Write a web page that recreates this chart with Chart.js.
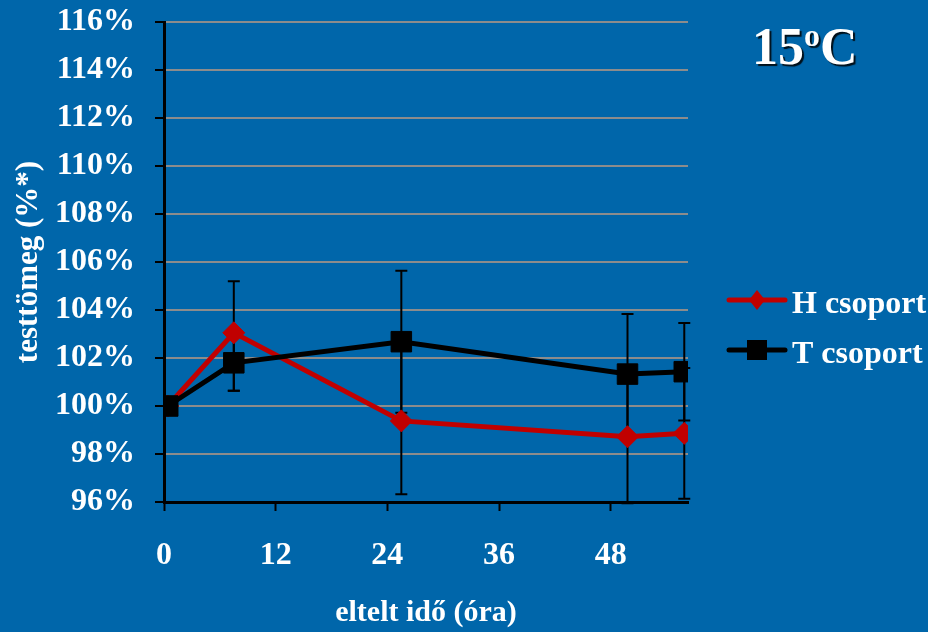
<!DOCTYPE html>
<html lang="hu">
<head>
    <meta charset="UTF-8">
    <title>Testtömeg 15°C</title>
    <script src="https://cdn.jsdelivr.net/npm/chart.js"></script>
    <style>
        html, body {
            margin: 0;
            padding: 0;
            background-color: #0066aa;
        }

        .chart-container {
            width: 928px;
            height: 632px;
        }
    </style>
</head>
<body>
    <div class="chart-container">
        <canvas id="massChart"></canvas>
    </div>

    <script>
        // time since start (hours)
        var hours = [0.4, 7.5, 25.5, 49.8, 55.9];

        // body mass, % of starting value
        var hValues = [100, 103.05, 99.38, 98.72, 98.86];
        var tValues = [100, 101.8, 102.68, 101.33, 101.43];

        // error bars (percentage points)
        var hErrPlus = [0, 2.15, 3.06, 2.72, 2.72];
        var hErrMinus = [0, 2.41, 3.06, 2.77, 2.72];
        var tErrPlus = [0, 1.16, 2.96, 2.5, 2.03];
        var tErrMinus = [0, 1.16, 2.96, 2.5, 2.03];

        var xTicks = [0, 12, 24, 36, 48];
        var yTicks = [96, 98, 100, 102, 104, 106, 108, 110, 112, 114, 116];

        var seriesLabels = ['H csoport', 'T csoport'];
        var titleText = '15';

        var serif = "'Liberation Serif', 'Times New Roman', serif";

        function toPoints(values) {
            return values.map(function (v, i) { return { x: hours[i], y: v }; });
        }

        var errorBars = {
            id: 'errorBars',
            beforeDatasetsDraw: function (chart) {
                var ctx = chart.ctx;
                var xs = chart.scales.x, ys = chart.scales.y;
                var sets = [[hValues, hErrPlus, hErrMinus], [tValues, tErrPlus, tErrMinus]];
                ctx.save();
                ctx.strokeStyle = '#000';
                ctx.lineWidth = 2;
                sets.forEach(function (s) {
                    s[0].forEach(function (v, i) {
                        if (!s[1][i] && !s[2][i]) return;
                        var px = xs.getPixelForValue(hours[i]);
                        var top = ys.getPixelForValue(v + s[1][i]);
                        var bot = ys.getPixelForValue(v - s[2][i]);
                        ctx.beginPath();
                        ctx.moveTo(px, top); ctx.lineTo(px, bot);
                        ctx.moveTo(px - 6, top); ctx.lineTo(px + 6, top);
                        ctx.moveTo(px - 6, bot); ctx.lineTo(px + 6, bot);
                        ctx.stroke();
                    });
                });
                ctx.restore();
            }
        };

        var sideLegend = {
            id: 'sideLegend',
            afterDraw: function (chart) {
                var ctx = chart.ctx;
                var x0 = chart.chartArea.right + 41;
                ctx.save();
                chart.data.datasets.forEach(function (ds, i) {
                    var y = 300 + i * 50;
                    ctx.strokeStyle = ds.borderColor;
                    ctx.lineWidth = 5;
                    ctx.lineCap = 'round';
                    ctx.beginPath();
                    ctx.moveTo(x0, y); ctx.lineTo(x0 + 56, y);
                    ctx.stroke();
                    ctx.fillStyle = ds.pointBackgroundColor;
                    var cx = x0 + 28;
                    ctx.beginPath();
                    if (ds.pointStyle === 'rectRot') {
                        ctx.moveTo(cx, y - 10); ctx.lineTo(cx + 8, y);
                        ctx.lineTo(cx, y + 10); ctx.lineTo(cx - 8, y);
                        ctx.closePath();
                    } else {
                        ctx.rect(cx - 10, y - 10, 20, 20);
                    }
                    ctx.fill();
                    ctx.fillStyle = '#fff';
                    ctx.font = 'bold 32px ' + serif;
                    ctx.textBaseline = 'alphabetic';
                    ctx.fillText(ds.label, x0 + 63, y + 13);
                });

                // temperature label with shadow
                ctx.shadowColor = 'rgba(0,0,0,0.85)';
                ctx.shadowOffsetX = 2;
                ctx.shadowOffsetY = 2;
                ctx.shadowBlur = 1;
                ctx.fillStyle = '#fff';
                ctx.font = 'bold 52px ' + serif;
                ctx.fillText(titleText, 752, 64);
                var w = ctx.measureText(titleText).width;
                ctx.font = 'bold 32px ' + serif;
                ctx.fillText('o', 752 + w, 46);
                var w2 = ctx.measureText('o').width;
                ctx.font = 'bold 52px ' + serif;
                ctx.fillText('C', 752 + w + w2, 64);
                ctx.restore();
            }
        };

        var ctx = document.getElementById('massChart').getContext('2d');
        var massChart = new Chart(ctx, {
            type: 'line',
            data: {
                datasets: [{
                    label: seriesLabels[0],
                    data: toPoints(hValues),
                    borderColor: '#c00000',
                    backgroundColor: '#c00000',
                    pointBackgroundColor: '#c00000',
                    pointBorderColor: '#c00000',
                    pointStyle: 'rectRot',
                    pointRadius: 11,
                    pointBorderWidth: 1,
                    borderWidth: 5,
                    order: 1
                }, {
                    label: seriesLabels[1],
                    data: toPoints(tValues),
                    borderColor: '#000000',
                    backgroundColor: '#000000',
                    pointBackgroundColor: '#000000',
                    pointBorderColor: '#000000',
                    pointStyle: 'rect',
                    pointRadius: 14.5,
                    pointBorderWidth: 1,
                    borderWidth: 5,
                    order: 0
                }]
            },
            options: {
                responsive: true,
                maintainAspectRatio: false,
                animation: false,
                layout: {
                    padding: { top: 22, right: 240, left: 0, bottom: 0 }
                },
                plugins: {
                    legend: { display: false },
                    tooltip: { enabled: false }
                },
                scales: {
                    x: {
                        type: 'linear',
                        min: 0,
                        max: 56.3,
                        afterBuildTicks: function (axis) {
                            axis.ticks = xTicks.map(function (v) { return { value: v }; });
                        },
                        afterFit: function (axis) {
                            axis.height = 130;
                            axis.paddingLeft = 0;
                            axis.paddingRight = 0;
                        },
                        grid: {
                            drawOnChartArea: false,
                            drawTicks: true,
                            tickLength: 9,
                            tickWidth: 2,
                            tickColor: '#000'
                        },
                        border: { color: '#000', width: 3 },
                        ticks: {
                            color: '#fff',
                            padding: 26,
                            font: { family: serif, size: 32, weight: 'bold' }
                        },
                        title: {
                            display: true,
                            text: 'eltelt idő (óra)',
                            color: '#fff',
                            padding: { top: 0, bottom: 1 },
                            font: { family: serif, size: 30, weight: 'bold' }
                        }
                    },
                    y: {
                        min: 96,
                        max: 116,
                        afterBuildTicks: function (axis) {
                            axis.ticks = yTicks.map(function (v) { return { value: v }; });
                        },
                        afterFit: function (axis) {
                            axis.width = 164;
                            axis.paddingTop = 0;
                            axis.paddingBottom = 0;
                        },
                        grid: {
                            color: '#8c8c8c',
                            lineWidth: 2,
                            drawTicks: true,
                            tickLength: 9,
                            tickWidth: 2,
                            tickColor: '#000'
                        },
                        border: { color: '#000', width: 3 },
                        ticks: {
                            color: '#fff',
                            padding: 20,
                            font: { family: serif, size: 32, weight: 'bold' },
                            callback: function (v) { return v + '%'; }
                        },
                        title: {
                            display: true,
                            text: 'testtömeg (%*)',
                            color: '#fff',
                            padding: { top: 10, bottom: 0 },
                            font: { family: serif, size: 31, weight: 'bold' }
                        }
                    }
                }
            },
            plugins: [errorBars, sideLegend]
        });
    </script>
</body>
</html>
